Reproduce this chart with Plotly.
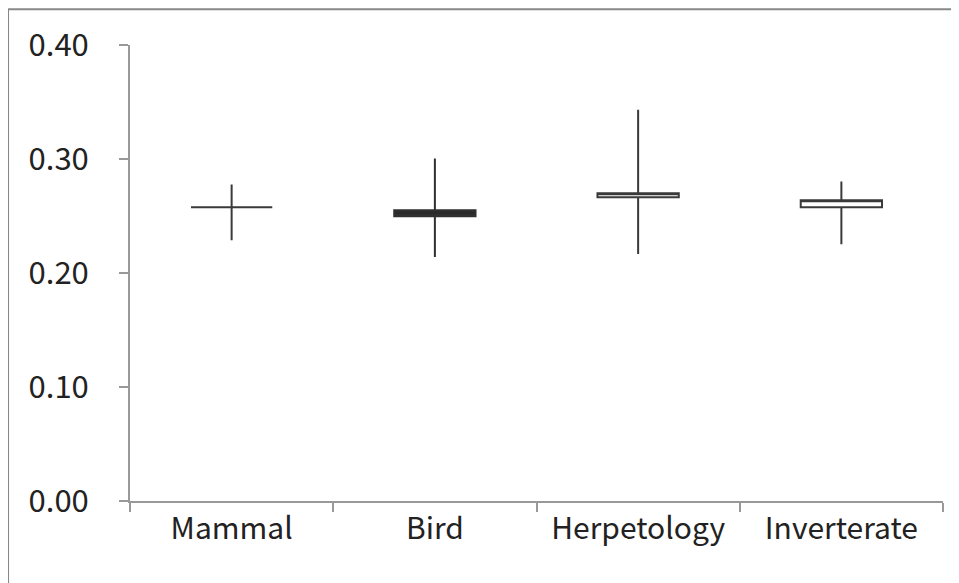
import plotly.graph_objects as go

categories = ["Mammal", "Bird", "Herpetology", "Inverterate"]
open_vals = [0.2576, 0.2550, 0.2664, 0.2576]
close_vals = [0.2576, 0.2498, 0.2699, 0.2638]
high_vals = [0.2777, 0.3004, 0.3432, 0.2803]
low_vals = [0.2288, 0.2140, 0.2166, 0.2253]
y_ticks = [0.0, 0.1, 0.2, 0.3, 0.4]

FONT = "Noto Sans CJK KR"

fig = go.Figure()
fig.add_trace(go.Candlestick(
    x=categories, open=open_vals, close=close_vals, high=high_vals, low=low_vals,
    increasing=dict(fillcolor="white", line=dict(color="#3a3a3a", width=2)),
    decreasing=dict(fillcolor="#2a2a2a", line=dict(color="#303030", width=2)),
    whiskerwidth=0, showlegend=False, hoverinfo="skip",
))

fig.update_layout(
    width=951, height=575,
    paper_bgcolor="white", plot_bgcolor="white",
    margin=dict(l=122, r=16, t=35, b=82),
    boxgap=0.6, boxgroupgap=0,
    font=dict(family=FONT, size=30, color="#222222"),
    xaxis=dict(
        type="category", rangeslider=dict(visible=False),
        showline=True, linecolor="#999999", linewidth=2,
        ticks="outside", tickson="boundaries", ticklen=9, tickcolor="#999999", tickwidth=2,
        showgrid=False, zeroline=False,
        tickfont=dict(family=FONT, size=30, color="#222222"),
    ),
    yaxis=dict(
        range=[0, 0.4], tickvals=y_ticks, tickformat=".2f",
        showline=True, linecolor="#999999", linewidth=2,
        ticks="outside", ticklen=9, tickcolor="#999999", tickwidth=2,
        showgrid=False, zeroline=False,
        ticklabelstandoff=24,
        tickfont=dict(family=FONT, size=31, color="#222222"),
    ),
    shapes=[
        dict(type="line", xref="paper", yref="paper", x0=-0.150, x1=1.05, y0=1.0786, y1=1.0786,
             line=dict(color="#888888", width=2)),
        dict(type="line", xref="paper", yref="paper", x0=-0.150, x1=-0.150, y0=1.0786, y1=-0.3,
             line=dict(color="#888888", width=2)),
    ],
)

fig.write_html("out.html")
